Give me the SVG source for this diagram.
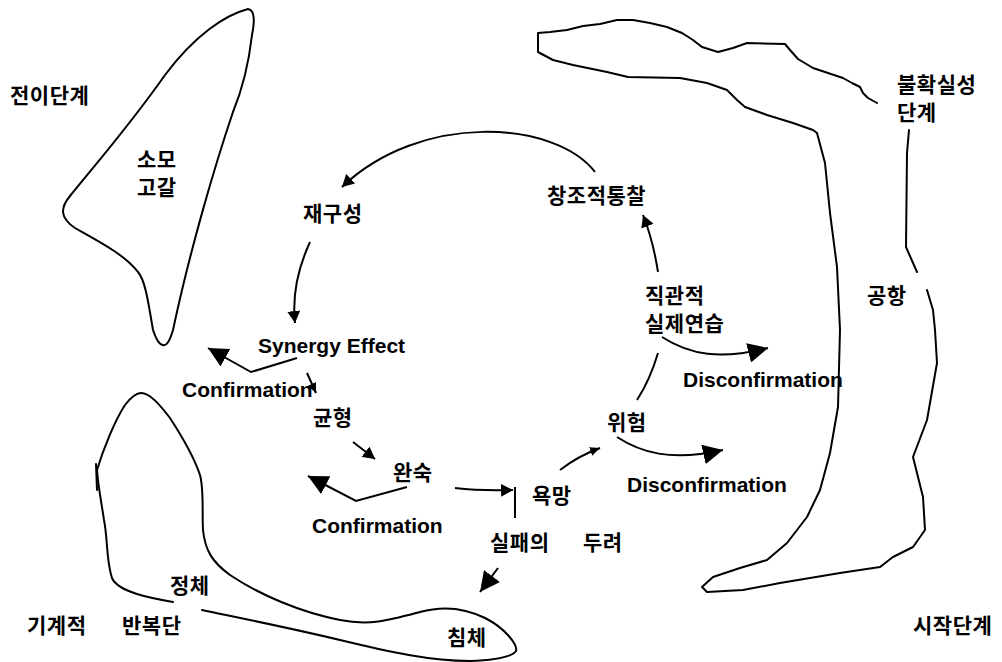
<svg xmlns="http://www.w3.org/2000/svg" width="1002" height="662" viewBox="0 0 1002 662">
<style>
.shape{fill:none;stroke:#000;stroke-width:2;stroke-linejoin:round;stroke-linecap:round}
.con{fill:none;stroke:#000;stroke-width:2}
.ko{font-family:"Noto Sans CJK KR","Noto Sans CJK SC",sans-serif;font-size:21px;font-weight:bold;letter-spacing:0.5px;fill:#000}
.en{font-family:"Liberation Sans",Arial,sans-serif;font-size:21px;font-weight:bold;fill:#000}
</style>
<defs>
<marker id="big" viewBox="0 0 20 20" refX="20" refY="10" markerWidth="20" markerHeight="20" markerUnits="userSpaceOnUse" orient="auto"><path d="M0,0 L20,10 L0,20 z" fill="#000"/></marker>
<marker id="mid" viewBox="0 0 12 13" refX="12" refY="6.5" markerWidth="12" markerHeight="13" markerUnits="userSpaceOnUse" orient="auto"><path d="M0,0 L12,6.5 L0,13 z" fill="#000"/></marker>
<marker id="small" viewBox="0 0 10 9" refX="10" refY="4.5" markerWidth="10" markerHeight="9" markerUnits="userSpaceOnUse" orient="auto"><path d="M0,0 L10,4.5 L0,9 z" fill="#000"/></marker>
</defs>
<rect width="1002" height="662" fill="#fff"/>

<g id="shape-transition">
<path class="shape" d="M 248,9 C 256,10 254,25 252,35 C 248,70 240,95 233,112 C 215,165 190,250 173,330 Q 168,347 163,345 Q 158,345 153,330 C 148,300 145,280 138,272 C 125,255 100,242 75,228 C 60,218 60,208 70,196 C 95,165 130,125 165,75 C 195,35 225,15 248,9 Z"/>
</g>
<g id="shape-uncertainty">
<path class="shape" d="M 877,103 L 868,98 L 863,93 L 860,87 L 852,83 L 843,78 L 813,68 L 798,59 L 790,50 L 785,44 L 747,43 L 733,48 L 718,52 L 702,47 L 693,40 L 682,33 L 667,27 L 650,23 L 633,20 L 617,20 L 600,24 L 583,26 L 567,30 L 550,32 L 538,33 L 538,52 L 553,60 L 573,65 L 607,72 L 628,77 L 680,78 L 707,83 L 727,90 L 737,100 L 745,107 L 767,115 L 793,123 L 813,130 L 817,133 L 825,163 L 830,213 L 837,267 L 840,330 L 838,407 L 830,453 L 820,490 L 807,517 L 787,543 L 767,560 L 740,568 L 713,577 L 702,587 L 707,592 L 743,590 L 780,583 L 810,578 L 840,573 L 860,570 L 880,567 L 893,557 L 913,547 L 925,530 L 923,497 L 913,457 L 927,420 L 937,363 L 935,330 L 933,310 L 927,290"/>
<path class="shape" d="M 909,130 L 907,153 L 906,247 L 917,272"/>
</g>
<g id="shape-stagnation">
<path class="shape" d="M 173,602 C 150,598 118,592 112,578 C 106,560 108,540 104,520 C 101,500 98,485 97,470 C 103,450 115,420 125,405 C 132,396 138,393 141,393 C 150,393 160,405 170,418 C 183,438 195,460 200,475 C 204,490 202,510 203,530 C 205,550 212,562 230,575 C 260,595 300,612 340,620 C 370,626 390,620 420,612 C 445,605 465,608 485,618 C 505,628 518,645 516,651 C 512,657 495,660 470,661 C 430,661 390,652 340,640 C 290,628 240,618 202,610"/>
<path class="shape" d="M 96,464 L 97,490"/>
</g>

<g id="connectors">
<path class="con" d="M 595,172 C 555,120 420,112 342,187" marker-end="url(#mid)"/>
<path class="con" d="M 310,242 C 298,268 292,295 295,323" marker-end="url(#mid)"/>
<path class="con" d="M 297,358 L 251,372 L 208,348" marker-end="url(#big)"/>
<path class="con" d="M 307,373 L 316,393" marker-end="url(#small)"/>
<path class="con" d="M 353,442 L 375,459" marker-end="url(#mid)"/>
<path class="con" d="M 407,487 L 356,501 L 308,476" marker-end="url(#big)"/>
<path class="con" d="M 455,488 Q 480,491 513,490" marker-end="url(#mid)"/>
<path class="con" d="M 515,487 L 515,518"/>
<path class="con" d="M 560,470 Q 578,456 600,448" marker-end="url(#small)"/>
<path class="con" d="M 637,400 Q 650,380 658,353"/>
<path class="con" d="M 658,272 Q 653,240 643,215" marker-end="url(#mid)"/>
<path class="con" d="M 662,337 C 690,355 720,360 768,348" marker-end="url(#big)"/>
<path class="con" d="M 617,437 C 640,452 670,462 723,450" marker-end="url(#big)"/>
<path class="con" d="M 498,568 L 480,592" marker-end="url(#big)"/>
</g>

<g id="label-transition"><text class="ko" x="10" y="103">전이단계</text></g>
<g id="node-consumption"><text class="ko" x="137" y="167">소모<tspan x="137" y="195">고갈</tspan></text></g>
<g id="label-uncertainty"><text class="ko" x="897" y="92">불확실성<tspan x="897" y="120">단계</tspan></text></g>
<g id="node-reconstruction"><text class="ko" x="303" y="221">재구성</text></g>
<g id="node-insight"><text class="ko" x="547" y="203">창조적통찰</text></g>
<g id="node-intuition"><text class="ko" x="645" y="303">직관적<tspan x="645" y="331">실제연습</tspan></text></g>
<g id="node-panic"><text class="ko" x="867" y="303">공항</text></g>
<g id="node-synergy"><text class="en" x="258" y="353">Synergy Effect</text></g>
<g id="label-confirmation1"><text class="en" x="182" y="397">Confirmation</text></g>
<g id="label-disconfirmation1"><text class="en" x="683" y="387">Disconfirmation</text></g>
<g id="node-balance"><text class="ko" x="313" y="425">균형</text></g>
<g id="node-maturity"><text class="ko" x="393" y="480">완숙</text></g>
<g id="node-risk"><text class="ko" x="607" y="430">위험</text></g>
<g id="label-disconfirmation2"><text class="en" x="627" y="492">Disconfirmation</text></g>
<g id="node-desire"><text class="ko" x="532" y="503">욕망</text></g>
<g id="label-confirmation2"><text class="en" x="312" y="533">Confirmation</text></g>
<g id="node-fear"><text class="ko" x="490" y="550">실패의<tspan x="583">두려</tspan></text></g>
<g id="node-stagnation"><text class="ko" x="170" y="593">정체</text></g>
<g id="label-mechanical"><text class="ko" x="27" y="633">기계적<tspan x="122">반복단</tspan></text></g>
<g id="node-depression"><text class="ko" x="447" y="645">침체</text></g>
<g id="label-start"><text class="ko" x="913" y="633">시작단계</text></g>
</svg>
